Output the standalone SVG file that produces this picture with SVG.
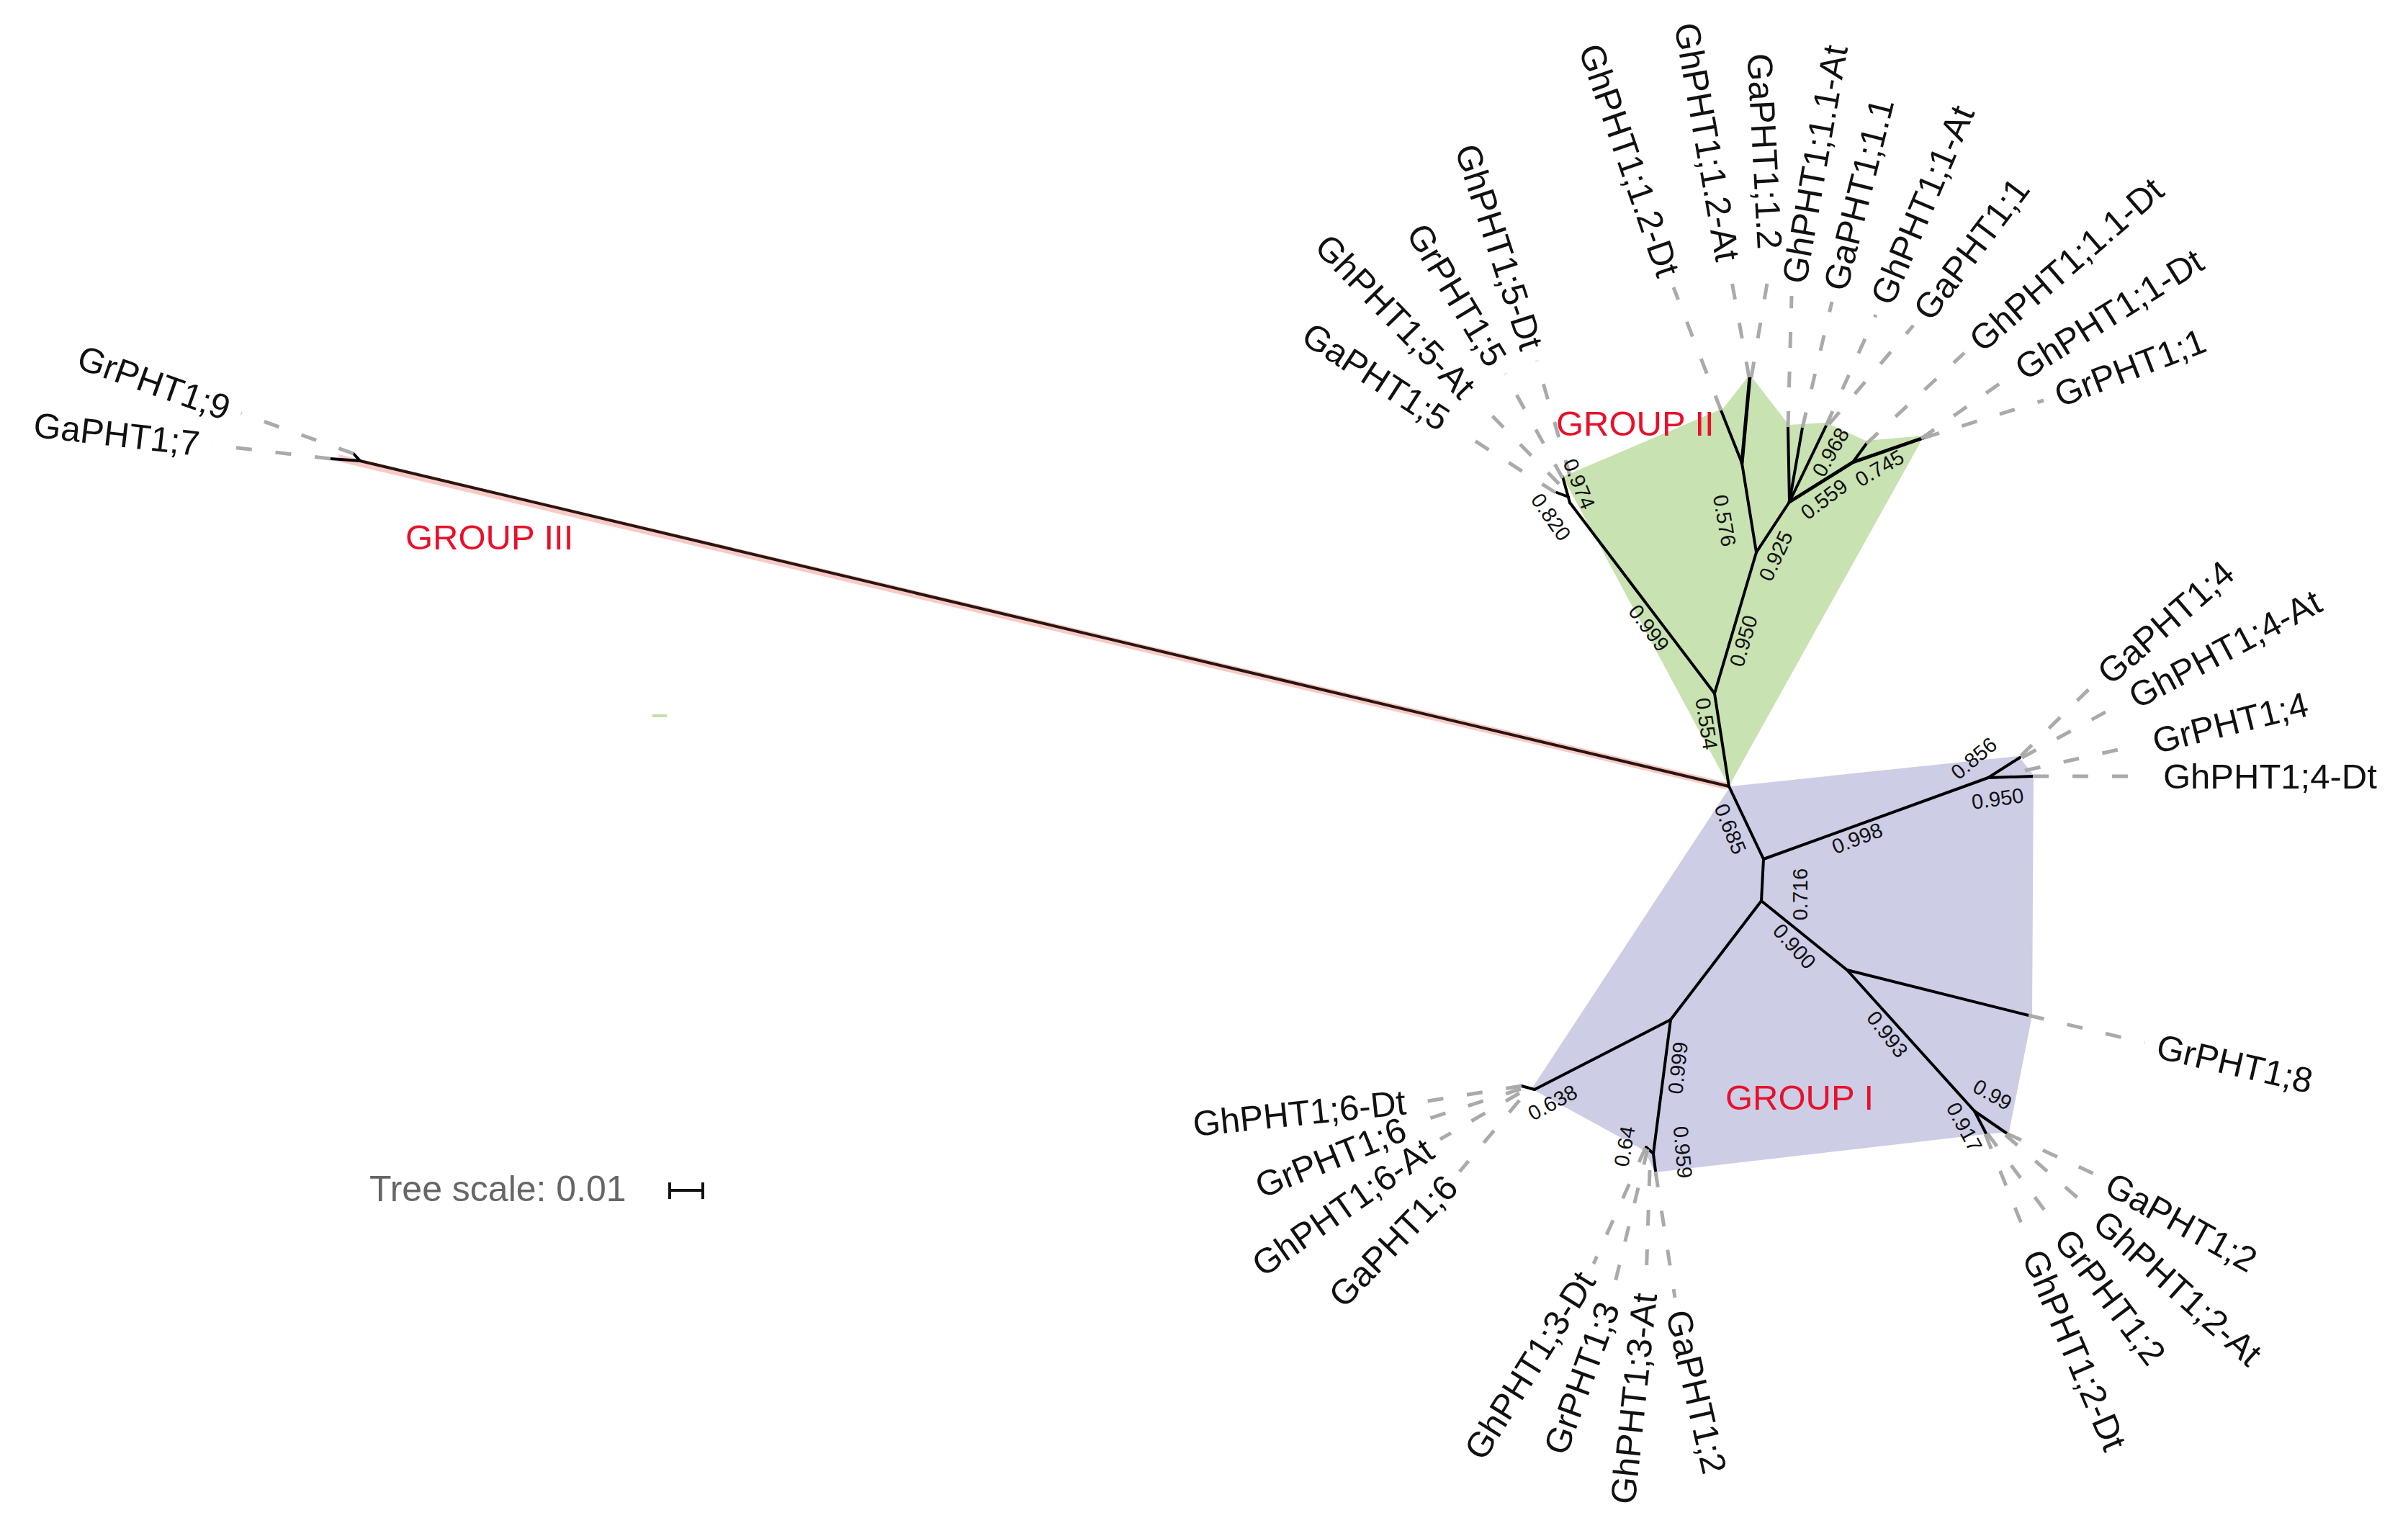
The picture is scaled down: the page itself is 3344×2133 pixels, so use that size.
<svg xmlns="http://www.w3.org/2000/svg" width="3344" height="2133" viewBox="0 0 3344 2133">
<style>
.lf{font-family:"Liberation Sans",Arial,sans-serif;font-size:49px;fill:#111}
.e{text-anchor:end}
.s{text-anchor:start}
.bs{font-family:"Liberation Sans",Arial,sans-serif;font-size:29px;fill:#111;text-anchor:middle}
.grp{font-family:"Liberation Sans",Arial,sans-serif;font-size:49px;fill:#e8102a}
.br{stroke:#000;stroke-width:4;fill:none;stroke-linecap:round}
.ds{stroke:#aaa;stroke-width:5;stroke-dasharray:22 33;fill:none}
</style>
<rect width="3344" height="2133" fill="#fff"/>
<g id="clades">
<polygon points="2401,1092 2170,662 2393,567 2430,520 2484,590 2536,587 2591,612 2672,605" fill="#c9e2b2"/>
<polygon points="2403,1092 2803,1050 2824,1076 2822,1410 2790,1572 2757,1575 2298,1628 2284,1598 2127,1512" fill="#cdcde6"/>
<line x1="470" y1="636" x2="2400" y2="1092" stroke="#f4a09a" stroke-width="10" opacity="0.55"/>
<line x1="906" y1="994" x2="926" y2="994" stroke="#c3dea9" stroke-width="4"/>
</g>
<g id="connectors">
<g class="br">
<line x1="2401" y1="1092" x2="500" y2="640" stroke="#2a1510"/>
<polyline points="491,630 500,640 459,637"/>
<line x1="2401" y1="1092" x2="2381" y2="963"/>
<line x1="2381" y1="963" x2="2180" y2="698"/>
<line x1="2180" y1="698" x2="2170" y2="662"/>
<line x1="2178" y1="690" x2="2162" y2="684"/>
<line x1="2381" y1="963" x2="2439" y2="767"/>
<line x1="2439" y1="767" x2="2419" y2="643"/>
<line x1="2419" y1="643" x2="2390" y2="570"/>
<line x1="2419" y1="643" x2="2430" y2="523" stroke-width="5"/>
<line x1="2439" y1="767" x2="2485" y2="697"/>
<line x1="2485" y1="697" x2="2483" y2="593"/>
<line x1="2485" y1="697" x2="2503" y2="594"/>
<line x1="2485" y1="697" x2="2536" y2="591"/>
<polyline points="2485,697 2573,642 2671,608" stroke-width="5"/>
<line x1="2573" y1="642" x2="2592" y2="616"/>
<line x1="2401" y1="1092" x2="2449" y2="1193"/>
<line x1="2449" y1="1193" x2="2761" y2="1080"/>
<line x1="2761" y1="1080" x2="2823" y2="1078"/>
<line x1="2761" y1="1080" x2="2805" y2="1052"/>
<line x1="2449" y1="1193" x2="2446" y2="1251"/>
<line x1="2446" y1="1251" x2="2565" y2="1347"/>
<line x1="2565" y1="1347" x2="2817" y2="1410"/>
<line x1="2565" y1="1347" x2="2742" y2="1543"/>
<line x1="2742" y1="1543" x2="2787" y2="1574"/>
<line x1="2742" y1="1543" x2="2758" y2="1574"/>
<line x1="2446" y1="1251" x2="2320" y2="1416"/>
<line x1="2320" y1="1416" x2="2131" y2="1513"/>
<line x1="2131" y1="1513" x2="2113" y2="1508"/>
<line x1="2320" y1="1416" x2="2296" y2="1602"/>
<line x1="2296" y1="1602" x2="2286" y2="1593"/>
<line x1="2296" y1="1602" x2="2299" y2="1626"/>
</g>
<g class="ds">
<line x1="491" y1="630" x2="335" y2="574"/>
<line x1="459" y1="637" x2="295" y2="618"/>
<line x1="2160" y1="684" x2="2023" y2="596"/>
<line x1="2165" y1="672" x2="2053" y2="558"/>
<line x1="2170" y1="664" x2="2090" y2="519"/>
<line x1="2180" y1="660" x2="2134" y2="501"/>
<line x1="2390" y1="570" x2="2324" y2="399"/>
<line x1="2429" y1="524" x2="2403" y2="380"/>
<line x1="2432" y1="524" x2="2459" y2="364"/>
<line x1="2483" y1="593" x2="2488" y2="411"/>
<line x1="2503" y1="594" x2="2544" y2="419"/>
<line x1="2536" y1="591" x2="2605" y2="437"/>
<line x1="2540" y1="589" x2="2657" y2="452"/>
<line x1="2592" y1="616" x2="2728" y2="490"/>
<line x1="2668" y1="609" x2="2788" y2="525"/>
<line x1="2672" y1="608" x2="2838" y2="556"/>
<line x1="2806" y1="1050" x2="2906" y2="952"/>
<line x1="2808" y1="1052" x2="2944" y2="978"/>
<line x1="2812" y1="1070" x2="2973" y2="1034"/>
<line x1="2823" y1="1078" x2="2986" y2="1078"/>
<line x1="2817" y1="1410" x2="2978" y2="1448"/>
<line x1="2787" y1="1574" x2="2912" y2="1632"/>
<line x1="2785" y1="1576" x2="2902" y2="1678"/>
<line x1="2760" y1="1574" x2="2853" y2="1699"/>
<line x1="2757" y1="1575" x2="2816" y2="1721"/>
<line x1="2299" y1="1627" x2="2326" y2="1802"/>
<line x1="2291" y1="1625" x2="2286" y2="1778"/>
<line x1="2288" y1="1596" x2="2240" y2="1793"/>
<line x1="2285" y1="1594" x2="2213" y2="1755"/>
<line x1="2110" y1="1528" x2="2027" y2="1627"/>
<line x1="2110" y1="1518" x2="2000" y2="1582"/>
<line x1="2112" y1="1512" x2="1967" y2="1559"/>
<line x1="2113" y1="1508" x2="1970" y2="1531"/>
</g>
</g>
<g id="leaves">
<text class="lf e" transform="translate(318,568) rotate(19.5)" dy="0.35em">GrPHT1;9</text>
<text class="lf e" transform="translate(277,616) rotate(6.6)" dy="0.35em">GaPHT1;7</text>
<text class="lf e" transform="translate(2008,586) rotate(33)" dy="0.35em">GaPHT1;5</text>
<text class="lf e" transform="translate(2040,545) rotate(46)" dy="0.35em">GhPHT1;5-At</text>
<text class="lf e" transform="translate(2080,504) rotate(59)" dy="0.35em">GrPHT1;5</text>
<text class="lf e" transform="translate(2128,484) rotate(72)" dy="0.35em">GhPHT1;5-Dt</text>
<text class="lf e" transform="translate(2318,382) rotate(71)" dy="0.35em">GhPHT1;1.2-Dt</text>
<text class="lf e" transform="translate(2400,362) rotate(80)" dy="0.35em">GhPHT1;1.2-At</text>
<text class="lf e" transform="translate(2458,346) rotate(87)" dy="0.35em">GaPHT1;1.2</text>
<text class="lf s" transform="translate(2491,393) rotate(-80)" dy="0.35em">GhPHT1;1.1-At</text>
<text class="lf s" transform="translate(2548,402) rotate(-76)" dy="0.35em">GaPHT1;1.1</text>
<text class="lf s" transform="translate(2612,420) rotate(-67)" dy="0.35em">GhPHT1;1-At</text>
<text class="lf s" transform="translate(2668,438) rotate(-53)" dy="0.35em">GaPHT1;1</text>
<text class="lf s" transform="translate(2742,478) rotate(-41)" dy="0.35em">GhPHT1;1.1-Dt</text>
<text class="lf s" transform="translate(2803,515) rotate(-32)" dy="0.35em">GhPHT1;1-Dt</text>
<text class="lf s" transform="translate(2855,550) rotate(-21)" dy="0.35em">GrPHT1;1</text>
<text class="lf s" transform="translate(2920,940) rotate(-41)" dy="0.35em">GaPHT1;4</text>
<text class="lf s" transform="translate(2960,970) rotate(-28)" dy="0.35em">GhPHT1;4-At</text>
<text class="lf s" transform="translate(2990,1030) rotate(-14)" dy="0.35em">GrPHT1;4</text>
<text class="lf s" transform="translate(3004,1078)" dy="0.35em">GhPHT1;4-Dt</text>
<text class="lf s" transform="translate(2996,1452) rotate(13)" dy="0.35em">GrPHT1;8</text>
<text class="lf s" transform="translate(2928,1641) rotate(29)" dy="0.35em">GaPHT1;2</text>
<text class="lf s" transform="translate(2915,1690) rotate(42)" dy="0.35em">GhPHT1;2-At</text>
<text class="lf s" transform="translate(2864,1713) rotate(53)" dy="0.35em">GrPHT1;2</text>
<text class="lf s" transform="translate(2823,1738) rotate(67)" dy="0.35em">GhPHT1;2-Dt</text>
<text class="lf s" transform="translate(2330,1820) rotate(77)" dy="0.35em">GaPHT1;2</text>
<text class="lf e" transform="translate(2284,1796) rotate(-84)" dy="0.35em">GhPHT1;3-At</text>
<text class="lf e" transform="translate(2234,1810) rotate(-70)" dy="0.35em">GrPHT1;3</text>
<text class="lf e" transform="translate(2203,1770) rotate(-58)" dy="0.35em">GhPHT1;3-Dt</text>
<text class="lf e" transform="translate(2015,1640) rotate(-46)" dy="0.35em">GaPHT1;6</text>
<text class="lf e" transform="translate(1985,1592) rotate(-35)" dy="0.35em">GhPHT1;6-At</text>
<text class="lf e" transform="translate(1950,1566) rotate(-22)" dy="0.35em">GrPHT1;6</text>
<text class="lf e" transform="translate(1952,1530) rotate(-6)" dy="0.35em">GhPHT1;6-Dt</text>
</g>
<g id="support">
<text class="bs" transform="translate(2370,1005) rotate(81)" dy="0.35em">0.554</text>
<text class="bs" transform="translate(2290,872) rotate(53)" dy="0.35em">0.999</text>
<text class="bs" transform="translate(2154,718) rotate(55)" dy="0.35em">0.820</text>
<text class="bs" transform="translate(2193,672) rotate(68)" dy="0.35em">0.974</text>
<text class="bs" transform="translate(2421,890) rotate(-73.5)" dy="0.35em">0.950</text>
<text class="bs" transform="translate(2395,723) rotate(80)" dy="0.35em">0.576</text>
<text class="bs" transform="translate(2466,772) rotate(-65)" dy="0.35em">0.925</text>
<text class="bs" transform="translate(2533,693) rotate(-37)" dy="0.35em">0.559</text>
<text class="bs" transform="translate(2610,650) rotate(-30)" dy="0.35em">0.745</text>
<text class="bs" transform="translate(2542,628) rotate(-60)" dy="0.35em">0.968</text>
<text class="bs" transform="translate(2403,1151) rotate(68)" dy="0.35em">0.685</text>
<text class="bs" transform="translate(2579,1164) rotate(-21)" dy="0.35em">0.998</text>
<text class="bs" transform="translate(2500,1242) rotate(-90)" dy="0.35em">0.716</text>
<text class="bs" transform="translate(2492,1314) rotate(48)" dy="0.35em">0.900</text>
<text class="bs" transform="translate(2621,1436) rotate(52)" dy="0.35em">0.993</text>
<text class="bs" transform="translate(2767,1520) rotate(30)" dy="0.35em">0.99</text>
<text class="bs" transform="translate(2728,1565) rotate(62)" dy="0.35em">0.917</text>
<text class="bs" transform="translate(2741,1053) rotate(-40)" dy="0.35em">0.856</text>
<text class="bs" transform="translate(2774,1109) rotate(-8)" dy="0.35em">0.950</text>
<text class="bs" transform="translate(2156,1531) rotate(-28)" dy="0.35em">0.638</text>
<text class="bs" transform="translate(2330,1483) rotate(-84)" dy="0.35em">0.999</text>
<text class="bs" transform="translate(2337,1600) rotate(85)" dy="0.35em">0.959</text>
<text class="bs" transform="translate(2256,1592) rotate(-80)" dy="0.35em">0.64</text>
</g>
<g id="group-labels">
<text class="grp" x="563" y="763">GROUP III</text>
<text class="grp" x="2161" y="605">GROUP II</text>
<text class="grp" x="2396" y="1541">GROUP I</text>
</g>
<g id="scale">
<text x="513" y="1668" font-family="Liberation Sans, Arial, sans-serif" font-size="50" fill="#666">Tree scale: 0.01</text>
<g stroke="#111" stroke-width="4">
<line x1="930" y1="1653" x2="976" y2="1653"/>
<line x1="930" y1="1642" x2="930" y2="1665"/>
<line x1="976" y1="1642" x2="976" y2="1665"/>
</g>
</g>
</svg>
